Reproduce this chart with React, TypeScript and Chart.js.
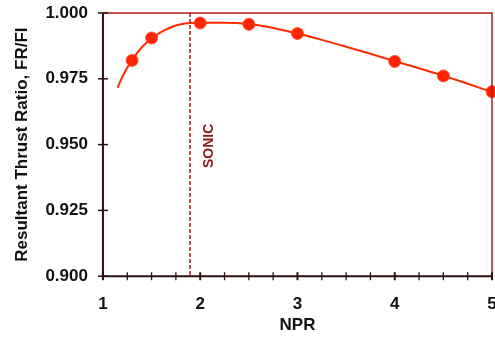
import React, { useEffect, useRef } from "react";
import { Chart, registerables } from "chart.js";

Chart.register(...registerables);

const pointNPR = [1.3, 1.5, 2.0, 2.5, 3.0, 4.0, 4.5, 5.0];
const pointRatio = [0.982, 0.9905, 0.9962, 0.9957, 0.9922, 0.9816, 0.9761, 0.9701];

const curveNPR = [1.15, 1.2, 1.3, 1.4, 1.5, 1.6, 1.7, 1.8, 1.9, 2.0, 2.25, 2.5, 2.75, 3.0, 3.25, 3.5, 3.75, 4.0, 4.25, 4.5, 4.75, 5.0];
const curveRatio = [0.9716, 0.9758, 0.9822, 0.987, 0.9903, 0.9928, 0.9946, 0.9957, 0.9962, 0.9963, 0.9963, 0.9958, 0.9943, 0.9922, 0.9898, 0.9872, 0.9845, 0.9817, 0.979, 0.9762, 0.9731, 0.97];

const sonicNPR = 1.895;
const sonicLabel = "SONIC";
const xTickLabels = [1, 2, 3, 4, 5];

const FONT = "'Liberation Sans', Arial, sans-serif";

const framePlugin = {
  id: "frame",
  afterDatasetsDraw(chart: any) {
    const { ctx, chartArea, scales } = chart;
    const { left, right, top, bottom } = chartArea;
    const xs = scales.x;
    const ys = scales.y;
    ctx.save();
    const sx = xs.getPixelForValue(sonicNPR);
    ctx.strokeStyle = "#9e2020";
    ctx.lineWidth = 1.5;
    ctx.setLineDash([4, 2]);
    ctx.beginPath();
    ctx.moveTo(sx, top);
    ctx.lineTo(sx, bottom);
    ctx.stroke();
    ctx.setLineDash([]);
    ctx.save();
    ctx.translate(sx + 19, ys.getPixelForValue(0.9495));
    ctx.rotate(-Math.PI / 2);
    ctx.fillStyle = "#8b1a1a";
    ctx.font = `bold 14px ${FONT}`;
    ctx.textAlign = "center";
    ctx.textBaseline = "middle";
    ctx.fillText(sonicLabel, 0, 0);
    ctx.restore();
    ctx.strokeStyle = "#b01a10";
    ctx.lineWidth = 1.5;
    ctx.beginPath();
    ctx.moveTo(left, top);
    ctx.lineTo(right, top);
    ctx.lineTo(right, bottom);
    ctx.stroke();
    ctx.strokeStyle = "#2a1010";
    ctx.lineWidth = 2;
    ctx.beginPath();
    ctx.moveTo(left, top);
    ctx.lineTo(left, bottom);
    ctx.lineTo(right, bottom);
    ctx.stroke();
    ctx.lineWidth = 1.5;
    ys.ticks.forEach((t: any) => {
      const y = ys.getPixelForValue(t.value);
      ctx.beginPath();
      ctx.moveTo(left - 5, y);
      ctx.lineTo(left + 5, y);
      ctx.stroke();
    });
    xs.ticks.forEach((t: any) => {
      const x = xs.getPixelForValue(t.value);
      const major = Math.abs(t.value - Math.round(t.value)) < 1e-6;
      ctx.lineWidth = major ? 2 : 1.3;
      ctx.beginPath();
      ctx.moveTo(x, bottom - 4);
      ctx.lineTo(x, bottom + 4);
      ctx.stroke();
    });
    ctx.restore();
  },
};

export default function App() {
  const ref = useRef<HTMLCanvasElement>(null);
  useEffect(() => {
    document.body.style.margin = "0";
    document.body.style.overflow = "hidden";
    const chart = new Chart(ref.current!, {
      type: "scatter",
      data: {
        datasets: [
          {
            type: "line",
            data: curveNPR.map((x, i) => ({ x, y: curveRatio[i] })),
            borderColor: "#ff2a00",
            borderWidth: 2,
            pointRadius: 0,
            cubicInterpolationMode: "monotone",
            fill: false,
          } as any,
          {
            data: pointNPR.map((x, i) => ({ x, y: pointRatio[i] })),
            backgroundColor: "#ff2200",
            borderColor: "#ff5a40",
            borderWidth: 1,
            pointRadius: 6,
            clip: false,
          } as any,
        ],
      },
      options: {
        animation: false,
        responsive: false,
        maintainAspectRatio: false,
        layout: { autoPadding: false, padding: { top: 13, right: 3, left: 0, bottom: 0 } } as any,
        plugins: { legend: { display: false }, tooltip: { enabled: false } },
        scales: {
          x: {
            type: "linear",
            min: 1,
            max: 5,
            border: { display: false },
            afterFit: (s: any) => {
              s.paddingLeft = 0;
              s.paddingRight = 0;
            },
            grid: { display: true, drawOnChartArea: false, drawTicks: true, tickLength: 4, color: "transparent" },
            ticks: {
              stepSize: 0.25,
              autoSkip: false,
              maxRotation: 0,
              padding: 14,
              color: "#111",
              font: { family: FONT, size: 17, weight: "bold" },
              callback: (v: any) => (xTickLabels.includes(Number(v)) ? String(v) : ""),
            },
            title: {
              display: true,
              text: "NPR",
              color: "#111",
              font: { family: FONT, size: 17, weight: "bold" },
              padding: { top: -13, bottom: 3 },
            },
          },
          y: {
            min: 0.9,
            max: 1.0,
            border: { display: false },
            afterFit: (s: any) => {
              s.paddingTop = 0;
              s.paddingBottom = 0;
            },
            grid: { display: true, drawOnChartArea: false, drawTicks: true, tickLength: 5, color: "transparent" },
            ticks: {
              stepSize: 0.025,
              padding: 10,
              color: "#111",
              font: { family: FONT, size: 17, weight: "bold" },
              callback: (v: any) => Number(v).toFixed(3),
            },
            title: {
              display: true,
              text: "Resultant Thrust Ratio, FR/FI",
              color: "#111",
              font: { family: FONT, size: 17, weight: "bold" },
              padding: { top: 12, bottom: 3 },
            },
          },
        },
      },
      plugins: [framePlugin],
    });
    return () => chart.destroy();
  }, []);
  return (
    <div style={{ width: 495, height: 339 }}>
      <canvas ref={ref} width={495} height={339} style={{ display: "block" }} />
    </div>
  );
}
